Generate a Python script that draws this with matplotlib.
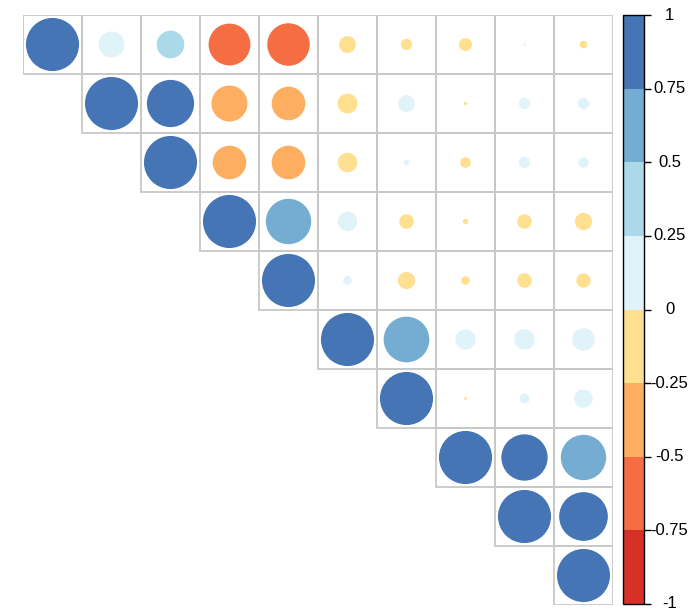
import numpy as np
import matplotlib
matplotlib.use("Agg")
import matplotlib.pyplot as plt
import matplotlib.transforms as mtransforms
from matplotlib.patches import Circle, Rectangle
from matplotlib.colors import ListedColormap, BoundaryNorm

plt.rcParams['font.family'] = ['Liberation Sans', 'DejaVu Sans']

# upper triangle of the correlation matrix, row by row (diagonal first)
rows = [
    [1.00, 0.24, 0.27, -0.62, -0.64, -0.10, -0.045, -0.06, 0.003, -0.02],
    [1.00, 0.79, -0.46, -0.40, -0.14, 0.10, -0.004, 0.045, 0.045],
    [1.00, -0.40, -0.40, -0.135, 0.01, -0.04, 0.045, 0.037],
    [1.00, 0.73, 0.135, -0.075, -0.01, -0.075, -0.105],
    [1.00, 0.026, -0.105, -0.026, -0.075, -0.072],
    [1.00, 0.74, 0.144, 0.15, 0.18],
    [1.00, -0.003, 0.035, 0.122],
    [1.00, 0.76, 0.73],
    [1.00, 0.84],
    [1.00],
]
n = len(rows)

colors = ['#D73027', '#F46D43', '#FDAE61', '#FEE090',
          '#E0F3F8', '#ABD9E9', '#74ADD1', '#4575B4']
bounds = np.linspace(-1, 1, 9)
cmap = ListedColormap(colors)
norm = BoundaryNorm(bounds, cmap.N)
tick_vals = np.linspace(-1, 1, 9)
tick_labels = ['-1', '-0.75', '-0.5', '-0.25', '0', '0.25', '0.5', '0.75', '1']

W, H = 698, 611
fig = plt.figure(figsize=(W / 100, H / 100), dpi=100)

# grid area in pixels
gx0, gy0, size = 23, 15, 590
ax = fig.add_axes([gx0 / W, 1 - (gy0 + size) / H, size / W, size / H])
ax.set_xlim(0, n)
ax.set_ylim(n, 0)
ax.set_aspect('equal')
ax.axis('off')

for i, row in enumerate(rows):
    for k, r in enumerate(row):
        j = i + k
        ax.add_patch(Rectangle((j, i), 1, 1, fill=False, edgecolor='#C8C8C8',
                               linewidth=1.3, zorder=1))
        rad = 0.45 * np.sqrt(abs(r))
        ax.add_patch(Circle((j + 0.5, i + 0.5), rad, facecolor=cmap(norm(r)),
                            edgecolor='none', zorder=2))

# colour legend
cax = fig.add_axes([623 / W, 1 - 604 / H, 21 / W, 589 / H])
sm = matplotlib.cm.ScalarMappable(norm=norm, cmap=cmap)
cb = fig.colorbar(sm, cax=cax, boundaries=bounds, ticks=tick_vals)
cb.outline.set_linewidth(1.0)
cb.outline.set_edgecolor('black')
cax.yaxis.set_ticks_position('right')
cax.tick_params(axis='y', direction='out', length=5, width=1, pad=2)
cax.set_yticklabels([])
lab_tr = mtransforms.blended_transform_factory(fig.transFigure, cax.transData)
for v, lab in zip(tick_vals, tick_labels):
    cax.text(669.5 / W, v, lab, transform=lab_tr,
             ha='center', va='center', fontsize=12)

fig.savefig('out.png', dpi=100)
